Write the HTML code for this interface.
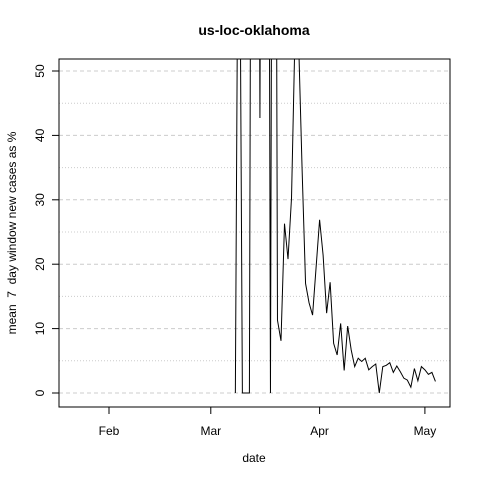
<!DOCTYPE html>
<html><head><meta charset="utf-8"><style>body{margin:0;background:#fff}svg{display:block;font-family:"Liberation Sans",sans-serif}</style></head>
<body>
<svg id="c" width="480" height="480" viewBox="0 0 480 480"></svg>
<script>
const startDay = 36; // days since Feb 1
const values = [0,100,0,0,0,200,200,42.7,200,200,0,200,11.3,8.1,26.3,20.8,30.3,56,55,35,17,14,12.1,19.5,26.9,21.4,12.4,17.2,7.7,5.9,10.8,3.5,10.4,6.7,4.1,5.4,4.9,5.4,3.6,4.1,4.5,0,4.1,4.3,4.7,3.2,4.2,3.3,2.3,2.0,0.9,3.8,1.9,4.1,3.6,2.9,3.2,1.8];
const xTickDays = [0,29,60,90];
const xTickLabels = ["Feb","Mar","Apr","May"];
const yTicks = [0,10,20,30,40,50];
const yMinor = [5,15,25,35,45];

const L=59,R=450,T=59,B=407;
const xs=d=>109+d*3.51;
const ys=v=>393-v*6.44;
const svg=document.getElementById('c');
const NS='http://www.w3.org/2000/svg';
function mk(t,a,p){const e=document.createElementNS(NS,t);for(const k in a)e.setAttribute(k,a[k]);(p||svg).appendChild(e);return e;}

const defs=mk('defs',{});
const cp=mk('clipPath',{id:'clip'},defs);
mk('rect',{x:L,y:T,width:R-L,height:B-T},cp);

yTicks.forEach(v=>{const l=mk('line',{x1:L,x2:R,y1:ys(v),y2:ys(v),stroke:'#ccc','stroke-dasharray':'4,3'});

});
yMinor.forEach(v=>{const l=mk('line',{x1:L,x2:R,y1:ys(v),y2:ys(v),stroke:'#ccc','stroke-dasharray':'1,2'});

});

const pts=values.map((v,i)=>xs(startDay+i).toFixed(2)+','+ys(v).toFixed(2)).join(' ');
const pl=mk('polyline',{points:pts,fill:'none',stroke:'#000','stroke-width':1,'clip-path':'url(#clip)'});



const box=mk('rect',{x:L,y:T,width:R-L,height:B-T,fill:'none',stroke:'#000'});



yTicks.forEach(v=>{const y=ys(v);
const t=mk('line',{x1:52,x2:L,y1:y,y2:y,stroke:'#000'});


const tx=mk('text',{x:44,y:y,'font-size':12,'text-anchor':'middle',transform:`rotate(-90 44 ${y})`});
tx.textContent=v;

});

xTickDays.forEach((d,i)=>{const x=xs(d);
const t=mk('line',{x1:x,x2:x,y1:B,y2:B+7,stroke:'#000'});


const tx=mk('text',{x:x,y:435,'font-size':12,'text-anchor':'middle'});
tx.textContent=xTickLabels[i];

});
</script>
<svg style="position:absolute;left:0;top:0" width="480" height="480">
<text x="254" y="35" font-size="14" font-weight="bold" text-anchor="middle" font-family="Liberation Sans, sans-serif">us-loc-oklahoma</text>
<text x="254" y="462" font-size="12" text-anchor="middle" font-family="Liberation Sans, sans-serif">date</text>
<text x="16" y="233" font-size="12" text-anchor="middle" transform="rotate(-90 16 233)" font-family="Liberation Sans, sans-serif" xml:space="preserve">mean  7  day window new cases as %</text>
</svg>
</body></html>
